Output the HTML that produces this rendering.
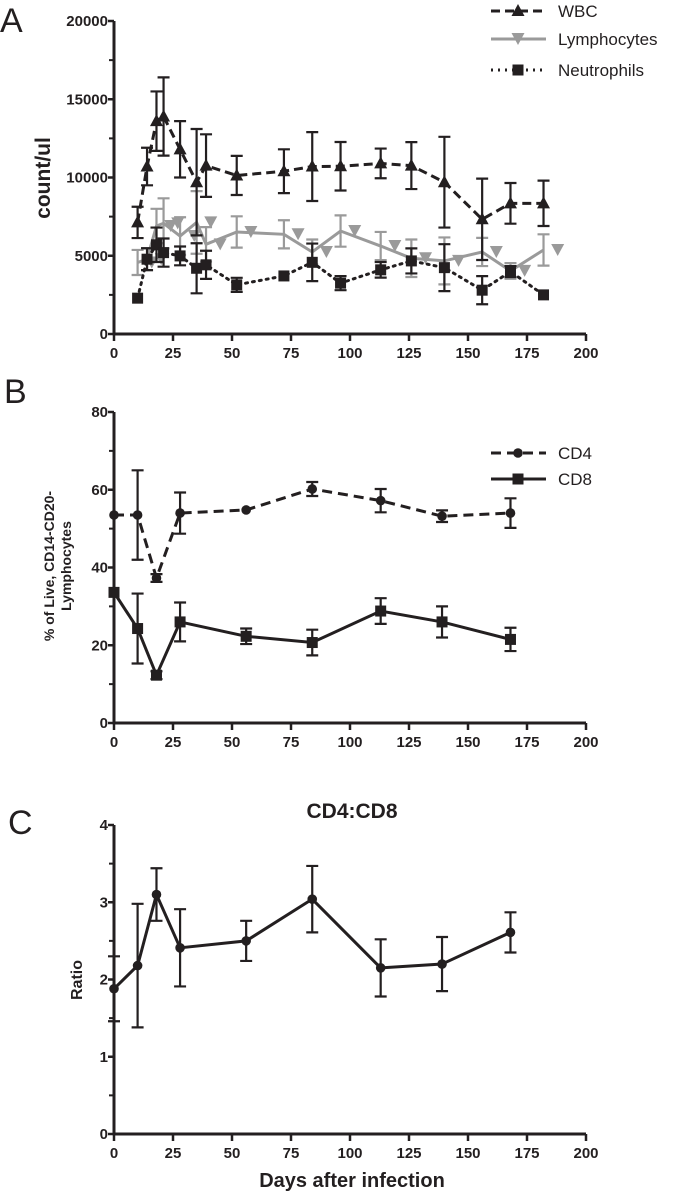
<!DOCTYPE html>
<html><head><meta charset="utf-8"><style>
body{margin:0;background:#fff;}
svg{display:block;font-family:"Liberation Sans",sans-serif;}
.tk{font-size:15px;font-weight:bold;fill:#231f20;}
</style></head><body>
<svg id="fig" width="675" height="1195" viewBox="0 0 675 1195"></svg>
<script>
// Panel A data
const daysA=[10,14,18,21,28,35,39,52,72,84,96,113,126,140,156,168,182];
const wbc=[7130,10700,13600,13900,11800,9700,10760,10130,10400,10700,10720,10900,10760,9700,7330,8350,8350];
const wbcErr=[1000,1200,1900,2500,1800,3400,2000,1250,1400,2200,1550,950,1500,2900,2600,1300,1450];
const lymph=[4570,4780,6900,7070,6260,7130,5730,6520,6370,5240,6580,5620,4840,4670,5240,4030,5370];
const lymphErr=[800,700,1100,1600,1200,2000,1100,1000,900,800,1000,900,1200,1500,900,500,1000];
const neut=[2290,4780,5700,5200,4990,4200,4420,3140,3710,4580,3250,4100,4670,4240,2800,3990,2500];
const neutErr=[0,700,1100,900,600,1600,900,450,0,1200,450,500,800,1500,900,350,0];
const ticksA=[0,5000,10000,15000,20000];
const lymphMarkerOffset=6;
// Panel B data
const daysB=[0,10,18,28,56,84,113,139,168];
const cd4=[53.5,53.5,37.3,54,54.8,60.2,57.2,53.2,54];
const cd4Err=[0,11.5,1,5.3,0,1.8,3,1.5,3.8];
const cd8=[33.6,24.3,12.3,26,22.3,20.7,28.8,26,21.5];
const cd8Err=[0,9,1,5,2,3.3,3.3,4,3];
const ticksB=[0,20,40,60,80];
// Panel C data
const ratio=[1.88,2.18,3.1,2.41,2.5,3.04,2.15,2.2,2.61];
const ratioErr=[0.42,0.8,0.34,0.5,0.26,0.43,0.37,0.35,0.26];
const ticksC=[0,1,2,3,4];
const ticksX=[0,25,50,75,100,125,150,175,200];

const NS="http://www.w3.org/2000/svg";
const svg=document.getElementById('fig');
function mk(tag,attrs,parent){const e=document.createElementNS(NS,tag);for(const k in attrs)e.setAttribute(k,attrs[k]);(parent||svg).appendChild(e);return e;}
function txt(s,attrs,parent){const e=mk('text',attrs,parent);e.textContent=s;return e;}
const X0=114,X1=586;
const xs=d=>X0+d*(X1-X0)/200;

function axes(g,yTop,yBot,ymax,ticks,fmt,name){
  const ys=v=>yBot-v*(yBot-yTop)/ymax;
  const ax=mk('path',{d:`M${X0} ${yTop}V${yBot}H${X1}`,stroke:'#231f20','stroke-width':3,fill:'none'},g);
  
  
  ticks.forEach(t=>{
    mk('line',{x1:X0-6,x2:X0,y1:ys(t),y2:ys(t),stroke:'#231f20','stroke-width':2.5},g);
    const l=txt(fmt(t),{x:X0-6,y:ys(t)+5,'text-anchor':'end',class:'tk'},g);
    
    
  });
  for(let i=0;i<ticks.length-1;i++){const m=(ticks[i]+ticks[i+1])/2;mk('line',{x1:X0-5,x2:X0,y1:ys(m),y2:ys(m),stroke:'#231f20','stroke-width':2},g);}
  ticksX.forEach(t=>{
    mk('line',{x1:xs(t),x2:xs(t),y1:yBot,y2:yBot+7,stroke:'#231f20','stroke-width':2.5},g);
    const l=txt(String(t),{x:xs(t),y:yBot+24,'text-anchor':'middle',class:'tk'},g);
    
    
  });
  return ys;
}
function series(g,days,vals,errs,ys,opt,name,mOff){
  const sg=mk('g',{},g);
  
  
  days.forEach((d,i)=>{if(errs[i]>0){const x=xs(d),a=ys(vals[i]+errs[i]),b=ys(vals[i]-errs[i]);
    mk('path',{d:`M${x} ${a}V${b}M${x-6} ${a}H${x+6}M${x-6} ${b}H${x+6}`,stroke:opt.c,'stroke-width':2.2,fill:'none'},sg);}});
  const pts=days.map((d,i)=>xs(d)+','+ys(vals[i])).join(' ');
  const pl=mk('polyline',{points:pts,fill:'none',stroke:opt.c,'stroke-width':3,'stroke-dasharray':opt.dash||'none','stroke-linecap':opt.cap||'butt'},sg);
  
  
  days.forEach((d,i)=>{marker(sg,xs(d+(mOff||0)),ys(vals[i]),opt.m,opt.c);});
}
function marker(g,x,y,m,c){
  let e;
  if(m==='tri')e=mk('path',{d:`M${x} ${y-7}L${x+6.5} ${y+5}L${x-6.5} ${y+5}Z`,fill:c},g);
  else if(m==='dtri')e=mk('path',{d:`M${x} ${y+6}L${x+6.5} ${y-6}L${x-6.5} ${y-6}Z`,fill:c},g);
  else if(m==='sq')e=mk('rect',{x:x-5.5,y:y-5.5,width:11,height:11,fill:c},g);
  else e=mk('circle',{cx:x,cy:y,r:4.8,fill:c},g);
  
  
}
function legend(g,x,y,label,opt){
  const lg=mk('g',{},g);
  
  
  mk('line',{x1:x,x2:x+55,y1:y,y2:y,stroke:opt.c,'stroke-width':3,'stroke-dasharray':opt.dash||'none'},lg);
  marker(lg,x+27,y,opt.m,opt.c);
  txt(label,{x:x+67,y:y+6,'font-size':17,fill:'#231f20'},lg);
}
function rotLabel(g,s,x,y,size,name){const l=txt(s,{x:x,y:y,'text-anchor':'middle','font-size':size,'font-weight':'bold',fill:'#231f20',transform:`rotate(-90 ${x} ${y})`},g);return l;}

const WBC={c:'#231f20',dash:'9 5',m:'tri'},LY={c:'#9a9a9a',m:'dtri'},NE={c:'#231f20',dash:'2 5',m:'sq',cap:'round'};
// Panel A
const gA=mk('g',{});
const pA=txt('A',{x:0,y:32,'font-size':34,fill:'#231f20'},gA);
const ysA=axes(gA,21,334,20000,ticksA,String,'panel-a');
rotLabel(gA,'count/ul',50,178,21,'y-axis-title-a');
series(gA,daysA,lymph,lymphErr,ysA,LY,'lymphocytes',lymphMarkerOffset);
series(gA,daysA,neut,neutErr,ysA,NE,'neutrophils',0);
series(gA,daysA,wbc,wbcErr,ysA,WBC,'wbc',0);
legend(gA,491,11,'WBC',WBC);legend(gA,491,39,'Lymphocytes',LY);legend(gA,491,70,'Neutrophils',NE);
// Panel B
const gB=mk('g',{});
const pB=txt('B',{x:4,y:403,'font-size':34,fill:'#231f20'},gB);
const ysB=axes(gB,412,723,80,ticksB,String,'panel-b');
rotLabel(gB,'% of Live, CD14-CD20-',54,566,14,'y-axis-title-b');
rotLabel(gB,'Lymphocytes',71,566,14,'y-axis-title-b2');
const C4={c:'#231f20',dash:'10 6',m:'circ'},C8={c:'#231f20',m:'sq'};
series(gB,daysB,cd4,cd4Err,ysB,C4,'cd4',0);
series(gB,daysB,cd8,cd8Err,ysB,C8,'cd8',0);
legend(gB,491,453,'CD4',C4);legend(gB,491,479,'CD8',C8);
// Panel C
const gC=mk('g',{});
const pC=txt('C',{x:8,y:834,'font-size':34,fill:'#231f20'},gC);
const tC=txt('CD4:CD8',{x:352,y:818,'text-anchor':'middle','font-size':21,'font-weight':'bold',fill:'#231f20'},gC);
const ysC=axes(gC,825,1134,4,ticksC,String,'panel-c');
rotLabel(gC,'Ratio',82,980,16,'y-axis-title-c');
series(gC,daysB,ratio,ratioErr,ysC,{c:'#231f20',m:'circ'},'ratio',0);
const xl=txt('Days after infection',{x:352,y:1187,'text-anchor':'middle','font-size':20,'font-weight':'bold',fill:'#231f20'},gC);
</script>
</body></html>
